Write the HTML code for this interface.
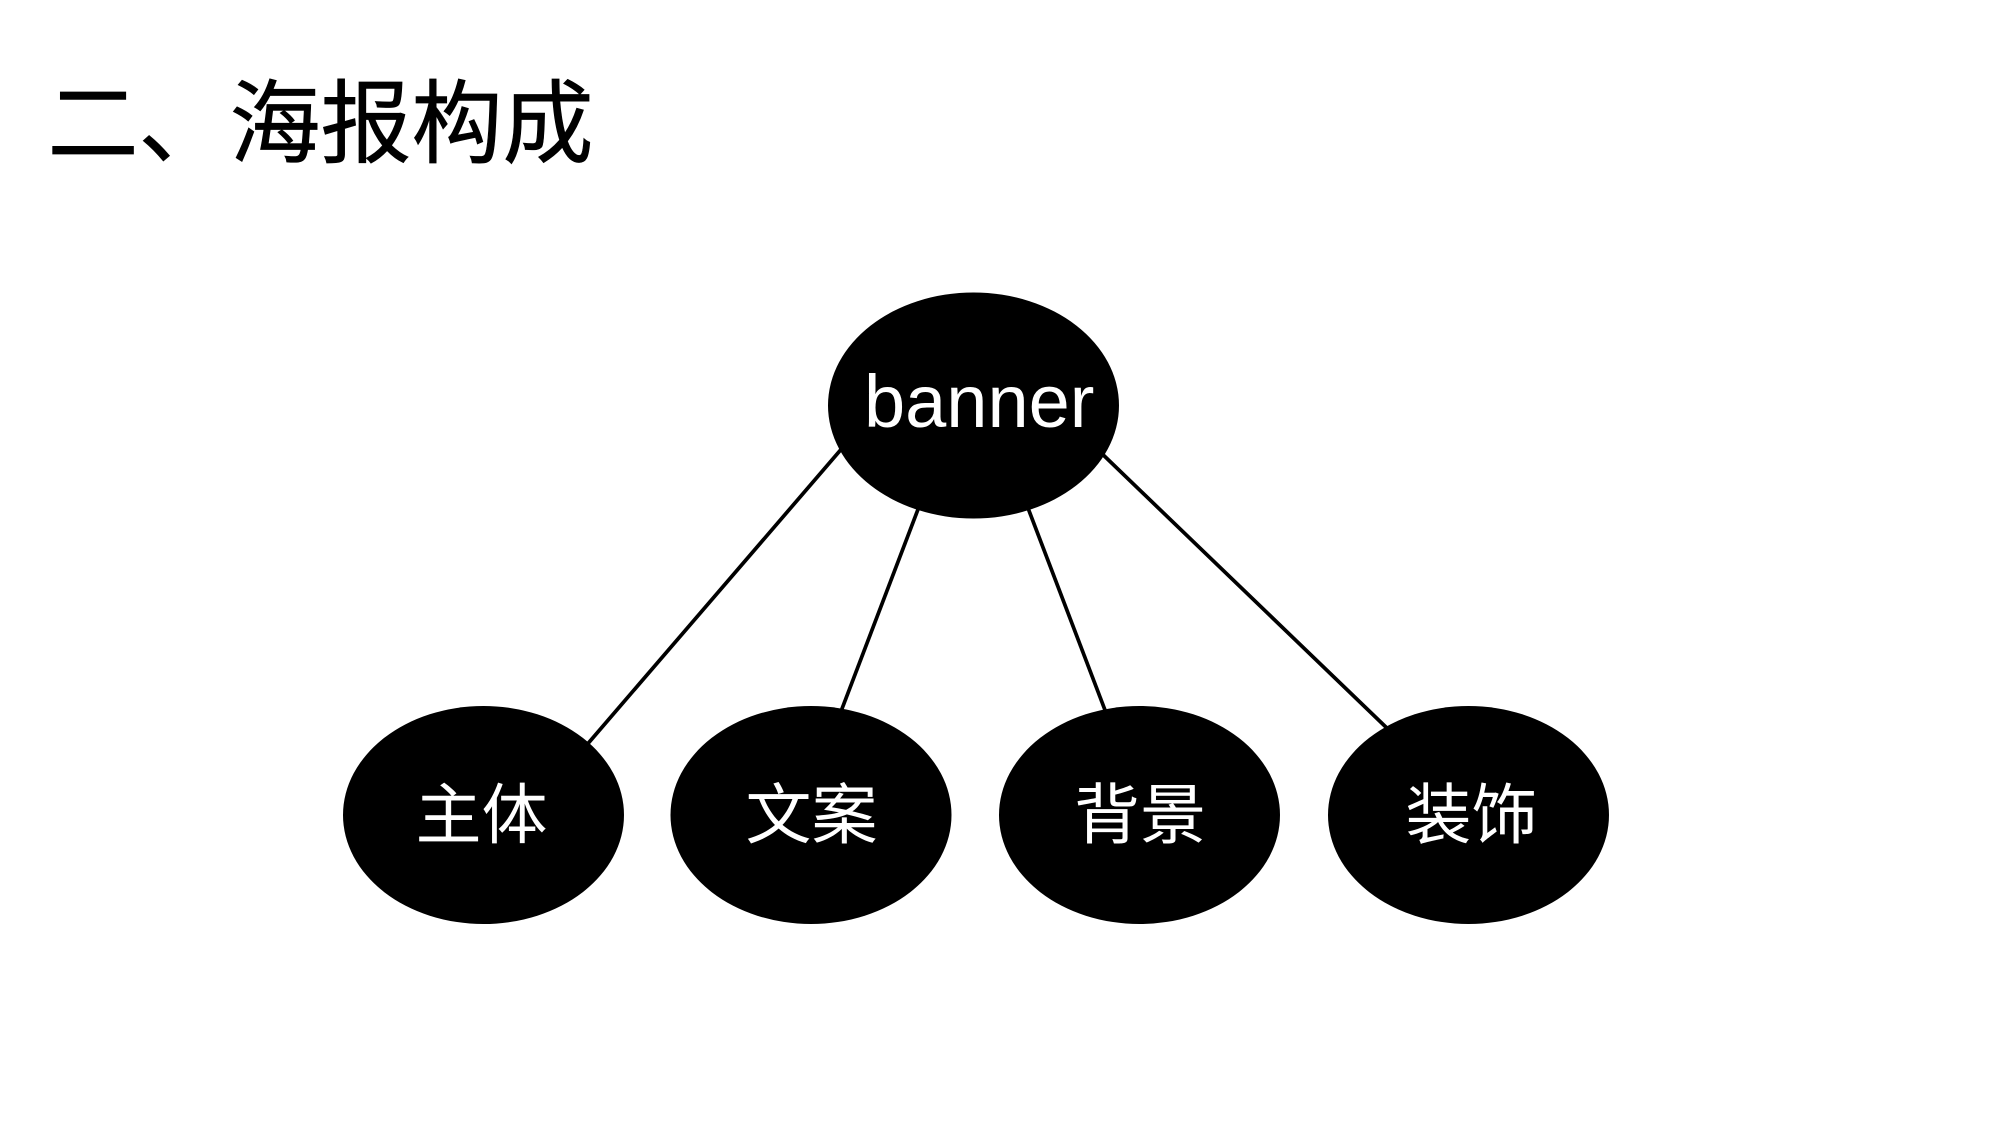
<!DOCTYPE html>
<html lang="zh">
<head>
<meta charset="utf-8">
<title>二、海报构成</title>
<style>
html,body{margin:0;padding:0;background:#fff;width:2008px;height:1130px;overflow:hidden}
svg{display:block}
.c{font-family:"Liberation Sans","Noto Sans CJK SC",sans-serif}
</style>
</head>
<body>
<svg width="2008" height="1130" viewBox="0 0 2008 1130" xmlns="http://www.w3.org/2000/svg">
<rect width="2008" height="1130" fill="#fff"/>
<text class="c" x="47.5" y="155.5" font-size="91" fill="#000" stroke="#000" stroke-width="0.7">二、海报构成</text>
<g stroke="#000" stroke-width="3.7" fill="none">
<line x1="850" y1="439" x2="585" y2="747"/>
<line x1="925" y1="491" x2="840" y2="714"/>
<line x1="1021.5" y1="491" x2="1106.5" y2="714"/>
<line x1="1095" y1="447" x2="1391" y2="732"/>
</g>
<g fill="#000">
<ellipse cx="973.5" cy="405.5" rx="145.5" ry="113"/>
<ellipse cx="483.5" cy="815" rx="140.5" ry="109"/>
<ellipse cx="811" cy="815" rx="140.5" ry="109"/>
<ellipse cx="1139.5" cy="815" rx="140.5" ry="109"/>
<ellipse cx="1468.5" cy="815" rx="140.5" ry="109"/>
</g>
<g fill="#fff" class="c">
<text x="864" y="427" font-size="74">banner</text>
<text x="415.5" y="838" font-size="66">主体</text>
<text x="745.5" y="838" font-size="66">文案</text>
<text x="1074" y="838" font-size="66">背景</text>
<text x="1405.5" y="838" font-size="66">装饰</text>
</g>
</svg>
</body>
</html>
